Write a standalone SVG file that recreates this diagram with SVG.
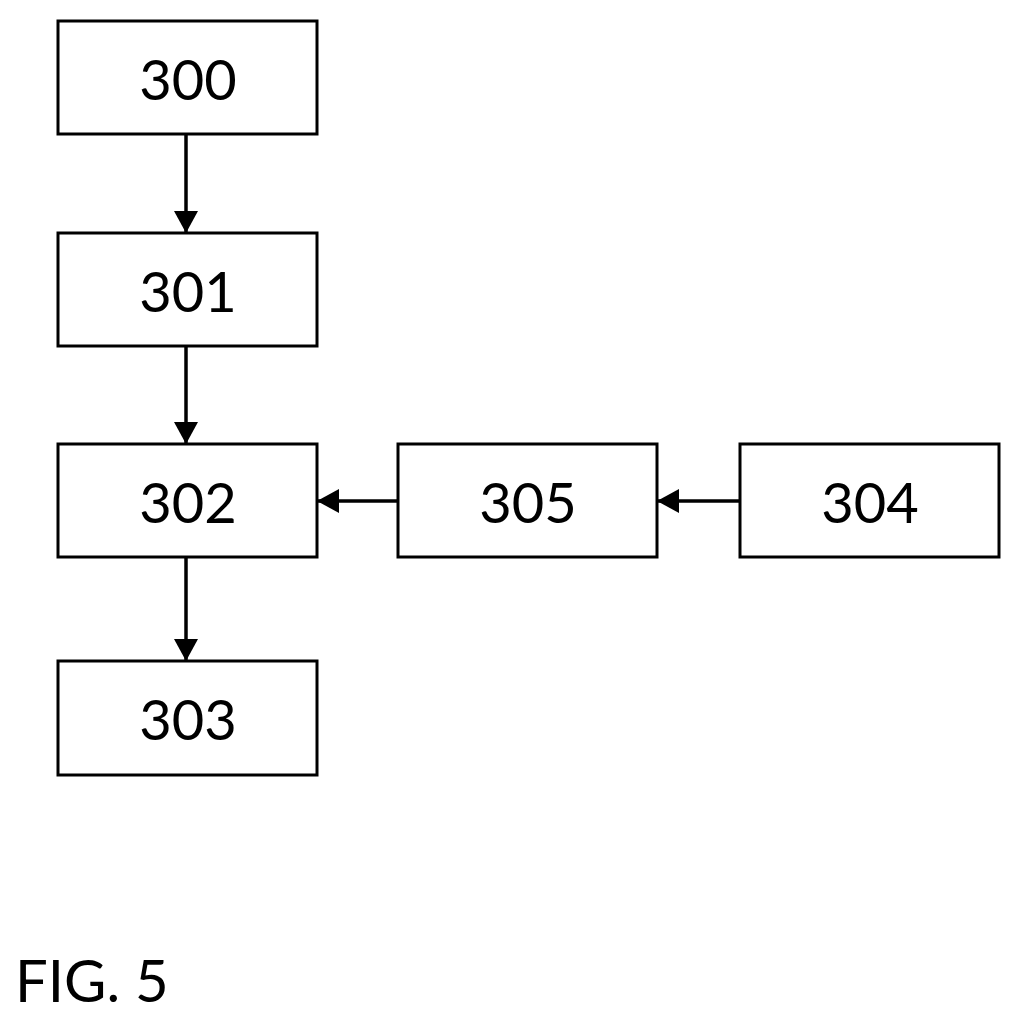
<svg xmlns="http://www.w3.org/2000/svg" width="1021" height="1023" viewBox="0 0 1021 1023">
<style>
.box{fill:#fff;stroke:#000;stroke-width:3}
.t{font-family:"Lato","Open Sans","Liberation Sans",sans-serif;font-size:56px;text-anchor:middle;fill:#000}
.c{stroke:#000;stroke-width:3.5;fill:none;marker-end:url(#a)}
</style>
<defs><marker id="a" markerUnits="userSpaceOnUse" markerWidth="24" markerHeight="24" refX="22" refY="12" orient="auto"><path d="M0,0 L22,12 L0,24 Z" fill="#000"/></marker></defs>
<rect width="1021" height="1023" fill="#fff"/>
<g id="connectors">
<line class="c" x1="186" y1="134" x2="186" y2="233"/>
<line class="c" x1="186" y1="346" x2="186" y2="444"/>
<line class="c" x1="186" y1="557" x2="186" y2="661"/>
<line class="c" x1="398" y1="501" x2="317" y2="501"/>
<line class="c" x1="740" y1="501" x2="657" y2="501"/>
</g>
<g id="n300"><rect class="box" x="58" y="21" width="259" height="113"/><text class="t" x="188" y="100">300</text></g>
<g id="n301"><rect class="box" x="58" y="233" width="259" height="113"/><text class="t" x="188" y="312">301</text></g>
<g id="n302"><rect class="box" x="58" y="444" width="259" height="113"/><text class="t" x="188" y="523">302</text></g>
<g id="n303"><rect class="box" x="58" y="661" width="259" height="114"/><text class="t" x="188" y="740">303</text></g>
<g id="n305"><rect class="box" x="398" y="444" width="259" height="113"/><text class="t" x="528" y="523">305</text></g>
<g id="n304"><rect class="box" x="740" y="444" width="259" height="113"/><text class="t" x="870" y="523">304</text></g>
<text x="15" y="1002" style="font-family:'Lato','Open Sans','Liberation Sans',sans-serif;font-size:58px">FIG. 5</text>
</svg>
